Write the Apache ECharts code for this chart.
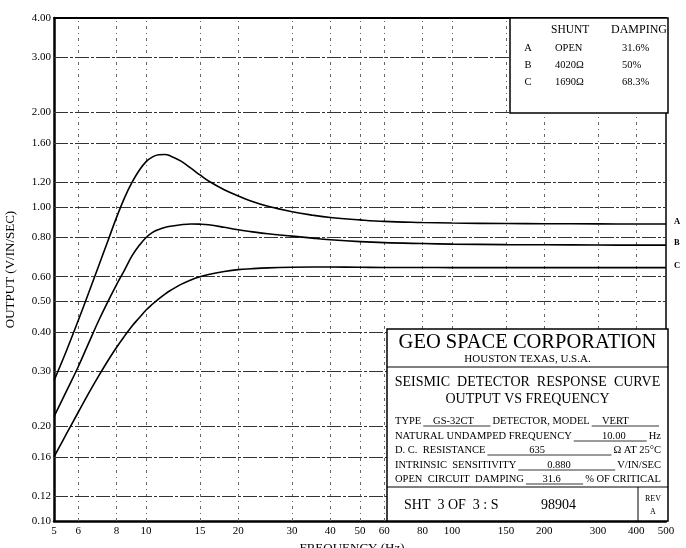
<!DOCTYPE html>
<html><head><meta charset="utf-8">
<script src="https://cdn.jsdelivr.net/npm/echarts@6/dist/echarts.min.js"></script>
<style>html,body{margin:0;padding:0;background:#fff}#c{width:686px;height:548px}</style>
</head><body><div id="c"></div>
<script>
// ---------- data ----------
const freq   = [5,5.5,6,6.5,7,7.5,8,8.5,9,9.5,10,10.5,11,11.5,12,13,14,15,16,18,20,22,25,30,35,40,50,60,80,100,150,200,300,400,500];
const curveA = [0.28,0.35,0.435,0.535,0.65,0.78,0.925,1.07,1.20,1.31,1.395,1.445,1.468,1.47,1.455,1.40,1.33,1.265,1.21,1.135,1.085,1.045,1.005,0.966,0.942,0.926,0.91,0.90,0.893,0.889,0.886,0.885,0.884,0.883,0.883];
const curveB = [0.215,0.26,0.31,0.37,0.435,0.50,0.565,0.63,0.70,0.755,0.80,0.83,0.848,0.86,0.868,0.878,0.883,0.882,0.878,0.862,0.846,0.835,0.822,0.808,0.796,0.787,0.776,0.77,0.765,0.762,0.759,0.758,0.757,0.756,0.756];
const curveC = [0.16,0.19,0.222,0.256,0.29,0.324,0.357,0.388,0.418,0.444,0.47,0.491,0.51,0.527,0.542,0.567,0.586,0.60,0.61,0.623,0.632,0.636,0.64,0.643,0.644,0.644,0.643,0.642,0.642,0.641,0.641,0.641,0.641,0.641,0.641];
const curveNames = ['A','B','C'];
const xTicks = [5,6,8,10,15,20,30,40,50,60,80,100,150,200,300,400,500];
const yTicks = [0.10,0.12,0.16,0.20,0.30,0.40,0.50,0.60,0.80,1.00,1.20,1.60,2.00,3.00,4.00];
const legendHeader = ['SHUNT','DAMPING'];
const legendRows = [['A','OPEN','31.6%'],['B','4020\u03A9','50%'],['C','1690\u03A9','68.3%']];
const titleLines = ['GEO SPACE CORPORATION','HOUSTON TEXAS, U.S.A.','SEISMIC  DETECTOR  RESPONSE  CURVE','OUTPUT VS FREQUENCY'];
const specRows = [
  [['t','TYPE'],['u','GS-32CT',1,0.45],['t','DETECTOR, MODEL'],['u','VERT',1,0.35]],
  [['t','NATURAL UNDAMPED FREQUENCY'],['u','10.00',1,0.55],['t','Hz']],
  [['t','D. C.  RESISTANCE'],['u','635',1,0.4],['t','\u03A9 AT 25\u00B0C']],
  [['t','INTRINSIC  SENSITIVITY'],['u','0.880',1,0.42],['t','V/IN/SEC']],
  [['t','OPEN  CIRCUIT  DAMPING'],['u','31.6',1,0.45],['t','% OF CRITICAL']]
];
const sheetText = ['SHT  3 OF  3 : S','98904'];
const revText = ['REV','A'];

// ---------- layout ----------
const FONT = '"Liberation Serif","Times New Roman",serif';
const chart = echarts.init(document.getElementById('c'));
const ctx = document.createElement('canvas').getContext('2d');
function tw(s, size){ ctx.font = size + 'px ' + FONT; return ctx.measureText(s).width; }
function T(x, y, text, size, align, weight){
  return {type:'text', x:x, y:y, z:101, silent:true,
    style:{text:text, font:(weight||'normal') + ' ' + size + 'px ' + FONT, fill:'#000',
      textAlign:align||'left', textVerticalAlign:'middle', verticalAlign:'middle'}};
}
function L(x1,y1,x2,y2,w){
  return {type:'line', z:101, silent:true, shape:{x1:x1,y1:y1,x2:x2,y2:y2}, style:{stroke:'#000', lineWidth:w||1}};
}
const G = [];
// legend box
G.push({type:'rect', z:100, silent:true, shape:{x:510,y:18,width:158,height:95}, style:{fill:'#fff', stroke:'#000', lineWidth:1.5}});
G.push(T(551,30,legendHeader[0],11.5));
G.push(T(667,30,legendHeader[1],12,'right'));
const legY = [48,65,82];
legendRows.forEach((r,i)=>{
  G.push(T(528,legY[i],r[0],10.5,'center'));
  G.push(T(555,legY[i],r[1],10.5));
  G.push(T(622,legY[i],r[2],10.5));
});
// title block
G.push({type:'rect', z:100, silent:true, shape:{x:387,y:329,width:281,height:192}, style:{fill:'#fff', stroke:'#000', lineWidth:1.5}});
G.push(T(527.5,343,titleLines[0],20.5,'center'));
G.push(T(527.5,359,titleLines[1],11,'center'));
G.push(L(387,367,668,367,1));
G.push(T(527.5,382,titleLines[2],14,'center'));
G.push(T(527.5,399,titleLines[3],14,'center'));
const rowY = [421,436,450,465,479];
const fs = 10.5, x0 = 395, x1 = 661;
specRows.forEach((segs,i)=>{
  const y = rowY[i];
  let textW = 0, wsum = 0;
  segs.forEach(s=>{ if(s[0]==='t') textW += tw(s[1],fs); else { wsum += s[2]; textW += 4; } });
  const free = x1 - x0 - textW;
  let x = x0;
  segs.forEach(s=>{
    if(s[0]==='t'){ G.push(T(x,y,s[1],fs)); x += tw(s[1],fs); }
    else {
      x += 2; const w = free*s[2]/wsum;
      G.push(L(x,y+5,x+w,y+5,0.8));
      G.push(T(x + w*s[3], y, s[1], fs, 'center'));
      x += w + 2;
    }
  });
});
G.push(L(387,487,668,487,1));
G.push(L(638,487,638,521,1));
G.push(T(404,505,sheetText[0],14));
G.push(T(541,505,sheetText[1],14));
G.push(T(653,499,revText[0],8,'center'));
G.push(T(653,512,revText[1],8,'center'));

// gridlines through the axes' own scales
const vStyle = {color:'#666', width:1, type:[3,4,1,4]};
const hStyle = {color:'#333', width:1, type:[14,2,3,2]};
const gridData = []
  .concat(xTicks.slice(1,-1).map(v=>({xAxis:v, lineStyle:vStyle})))
  .concat(yTicks.slice(1,-1).map(v=>({yAxis:v, lineStyle:hStyle})));

const curves = [curveA, curveB, curveC];
const series = curves.map((c,i)=>({
  type:'line', name:curveNames[i], smooth:0.4, showSymbol:false, symbol:'none', z:5,
  data: freq.map((f,j)=>[f, c[j]]),
  lineStyle:{color:'#000', width:1.6},
  endLabel:{show:true, formatter:curveNames[i], distance:8, offset:[0,-2],
    fontSize:8.5, fontWeight:'bold', fontFamily:FONT, color:'#000'},
  markLine: i===0 ? {silent:true, symbol:'none', animation:false, label:{show:false}, z:1, data:gridData} : undefined
}));

const axisFont = {fontFamily:FONT, fontSize:11, color:'#000'};
chart.setOption({
  animation:false,
  backgroundColor:'#fff',
  grid:{left:54, right:20, top:18, bottom:27, containLabel:false, outerBoundsMode:'none'},
  xAxis:[
    {type:'log', logBase:10, min:5, max:500, position:'bottom',
     axisLine:{lineStyle:{color:'#000', width:2.5}}, axisTick:{show:false}, splitLine:{show:false},
     axisLabel:Object.assign({customValues:xTicks, margin:5, formatter:v=>String(+(+v).toFixed(3))}, axisFont),
     name:'FREQUENCY (Hz)', nameLocation:'middle', nameGap:20,
     nameTextStyle:{fontFamily:FONT, fontSize:13, color:'#000', padding:[0,16,0,0]}},
    {type:'log', logBase:10, min:5, max:500, position:'top',
     axisLine:{lineStyle:{color:'#000', width:2}}, axisTick:{show:false}, axisLabel:{show:false}, splitLine:{show:false}}
  ],
  yAxis:[
    {type:'log', logBase:10, min:0.1, max:4, position:'left',
     axisLine:{lineStyle:{color:'#000', width:2.5}}, axisTick:{show:false}, splitLine:{show:false},
     axisLabel:Object.assign({customValues:yTicks, margin:3, formatter:v=>(+v).toFixed(2)}, axisFont),
     name:'OUTPUT (V/IN/SEC)', nameLocation:'middle', nameGap:37,
     nameTextStyle:{fontFamily:FONT, fontSize:13, color:'#000'}},
    {type:'log', logBase:10, min:0.1, max:4, position:'right',
     axisLine:{lineStyle:{color:'#000', width:1.5}}, axisTick:{show:false}, axisLabel:{show:false}, splitLine:{show:false}}
  ],
  series:series,
  graphic:G
});
</script></body></html>
